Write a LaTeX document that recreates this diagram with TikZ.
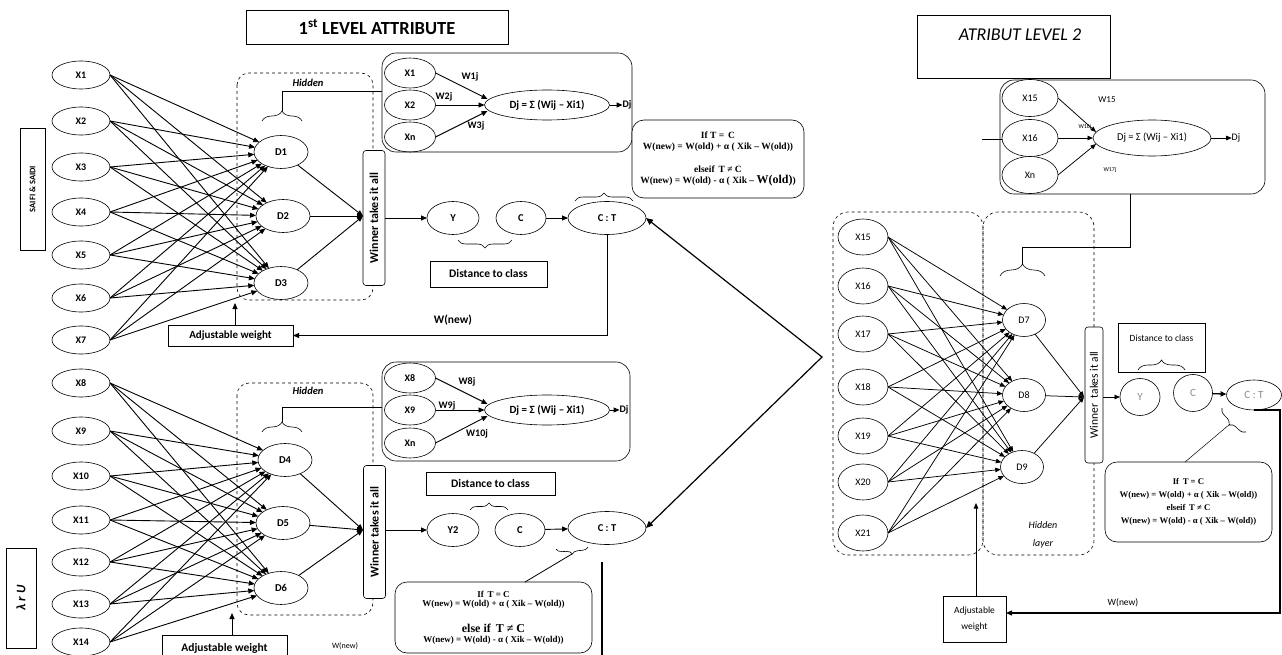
\documentclass[tikz,border=0pt]{standalone}
\usepackage{fontspec}
\setmainfont{Carlito}
\newfontfamily\formfont{Liberation Serif}
\usetikzlibrary{shapes.geometric,arrows.meta,decorations.pathreplacing,calc}
\begin{document}
\begin{tikzpicture}[x=1pt,y=-1pt,
  every node/.style={inner sep=0pt,outer sep=0pt},
  conn/.style={line width=0.9pt,-{Triangle[length=6pt,width=5pt]}},
  rconn/.style={line width=0.75pt,-{Triangle[length=5.5pt,width=4.5pt]}},
  plain/.style={line width=0.8pt},
  xin/.style={ellipse,draw,line width=0.6pt,fill=white,minimum width=58pt,minimum height=28pt,font=\fontsize{10}{11}\selectfont\bfseries},
  dn/.style={ellipse,draw,line width=0.6pt,fill=white,minimum width=54pt,minimum height=33pt,font=\fontsize{10.5}{11}\selectfont\bfseries},
  sx/.style={ellipse,draw,line width=0.6pt,minimum width=51pt,minimum height=30pt,font=\fontsize{10}{11}\selectfont\bfseries},
  djn/.style={ellipse,draw,line width=0.6pt,minimum width=125pt,minimum height=30pt,font=\fontsize{11}{12}\selectfont\bfseries},
  wl/.style={font=\fontsize{10}{11}\selectfont\bfseries},
  wta/.style={draw,rounded corners=3pt,line width=0.6pt,fill=white,minimum width=22pt,minimum height=135pt,font=\fontsize{12}{13}\selectfont\bfseries},
  lbox/.style={draw,line width=0.6pt,fill=white},
  hidbox/.style={draw,dashed,line width=0.6pt,rounded corners=12pt},
  panel/.style={draw,line width=0.6pt,rounded corners=14pt},
  formbox/.style={draw,line width=0.6pt,rounded corners=12pt,fill=white,align=center},
  brc/.style={decorate,decoration={brace,amplitude=#1},line width=0.6pt},
  xr/.style={ellipse,draw,line width=0.6pt,fill=white,minimum width=50pt,minimum height=36pt,font=\fontsize{10}{11}\selectfont},
  dr/.style={ellipse,draw,line width=0.6pt,fill=white,minimum width=43pt,minimum height=33pt,font=\fontsize{10}{11}\selectfont},
  grey/.style={ellipse,draw,line width=0.6pt,fill=white,minimum height=37pt,text=black!45,font=\fontsize{11}{12}\selectfont}
]
\useasboundingbox (0,0) rectangle (1282,655);
\fill[white] (0,0) rectangle (1282,655);

% ================= first level: titles and side labels =================
\node[lbox,minimum width=262pt,minimum height=34pt,font=\fontsize{18.5}{20}\selectfont\bfseries] (title1) at (377,27) {1\textsuperscript{st} LEVEL ATTRIBUTE};
\node[lbox,minimum width=25pt,minimum height=122pt,font=\fontsize{8.5}{9}\selectfont\bfseries] (saifi) at (32.5,189) {\rotatebox{90}{SAIFI \& SAIDI}};
\node[lbox,minimum width=30pt,minimum height=100pt,font=\fontsize{13}{14}\selectfont\bfseries\itshape] (lru) at (21,598) {\rotatebox{90}{λ r U}};

% ================= upper network =================
\draw[hidbox] (237,73) rectangle (373,300);
\node[font=\fontsize{10.5}{11}\selectfont\bfseries\itshape] (hid1) at (308,83) {Hidden};

\node[panel,minimum width=250pt,minimum height=99pt] (pan1) at (507,102.5) {};
\node[sx] (a1) at (410,73) {X1};
\node[sx] (a2) at (410,105) {X2};
\node[sx] (a3) at (410,137) {Xn};
\node[djn] (dj1) at (547,105) {Dj = Σ (Wij – Xi1)};
\node[wl] (djo1) at (627,105) {Dj};
\draw[conn] (a1.east) -- ($(dj1.west)+(3,-6)$);
\draw[conn] (a2.east) -- (dj1.west);
\draw[conn] (a3.east) -- ($(dj1.west)+(3,6)$);
\draw[conn] (dj1.east) -- (djo1.west);
\node[wl] (w1j) at (470,77) {W1j};
\node[wl] (w2j) at (444,97) {W2j};
\node[wl] (w3j) at (476,126) {W3j};

\coordinate (h1) at (282,91);
\coordinate (b1tip) at (282,111);
\draw[plain] (pan1.west |- h1) -- (h1) -- (b1tip);
\draw[brc=10pt] (262,121) -- (302,121);

\foreach \n/\y in {1/75,2/121,3/167,4/212,5/255,6/298,7/340,8/383,9/431,10/476,11/520,12/562,13/604,14/642}
  \node[xin] (X\n) at (81,\y) {X\n};

\node[dn] (D1) at (281,152) {D1};
\node[dn] (D2) at (283,216) {D2};
\node[dn] (D3) at (281,283) {D3};
\foreach \i in {1,...,7}
  \foreach \d in {1,2,3}
    \draw[conn] (X\i.east) -- (D\d);

\node[wta] (wta1) at (374,218) {\rotatebox{90}{Winner takes it all}};
\coordinate (w1in) at (363,216);
\foreach \d in {1,2,3} \draw[conn] (D\d) -- (w1in);

\node[dn,minimum width=52pt] (Y1) at (453,218) {Y};
\node[dn,minimum width=50pt] (C1) at (521,218) {C};
\node[dn,minimum width=78pt] (CT1) at (607,218) {C : T};
\draw[conn] (wta1.east |- Y1) -- (Y1.west);
\draw[conn] (C1) -- (CT1);
\draw[brc=8pt] (512,240) -- (458,240);
\node[lbox,minimum width=117pt,minimum height=26pt,font=\fontsize{11.5}{12}\selectfont\bfseries] (dtc1) at (488.5,274) {Distance to class};
\draw[brc=8pt] (575,201) -- (633,201);

\node[formbox,minimum width=172pt,minimum height=78pt,font=\formfont\bfseries\fontsize{9.5}{11.5}\selectfont] (f1) at (718,159)
  {If T = \,C\\W(new) = W(old) + α ( Xik – W(old))\\[11pt]elseif \,T ≠ C\\W(new) = W(old) - α ( Xik – {\fontsize{12}{12}\selectfont W(old)})};

\node[font=\fontsize{11.5}{12}\selectfont\bfseries] (wn1) at (453,320) {W(new)};
\node[lbox,minimum width=125pt,minimum height=21pt,font=\fontsize{11}{12}\selectfont\bfseries] (adj1) at (230.5,335.5) {Adjustable weight};
\draw[conn] (CT1.south) |- (adj1.east);
\coordinate (up1) at (235,303);
\draw[conn] (adj1.north -| up1) -- (up1);

% ================= lower network =================
\draw[hidbox] (237,383) rectangle (373,615);
\node[font=\fontsize{10.5}{11}\selectfont\bfseries\itshape] (hid2) at (308,391) {Hidden};

\node[panel,minimum width=248pt,minimum height=99pt] (pan2) at (506,411.5) {};
\node[sx] (a8) at (410,378) {X8};
\node[sx] (a9) at (410,410) {X9};
\node[sx] (a10) at (410,443) {Xn};
\node[djn] (dj2) at (547,410) {Dj = Σ (Wij – Xi1)};
\node[wl] (djo2) at (624,410) {Dj};
\draw[conn] (a8.east) -- ($(dj2.west)+(3,-6)$);
\draw[conn] (a9.east) -- (dj2.west);
\draw[conn] (a10.east) -- ($(dj2.west)+(3,6)$);
\draw[conn] (dj2.east) -- (djo2.west);
\node[wl] (w8j) at (467,382) {W8j};
\node[wl] (w9j) at (447,406) {W9j};
\node[wl] (w10j) at (477,434) {W10j};

\coordinate (h2) at (282,407);
\coordinate (b2tip) at (282,422);
\draw[plain] (pan2.west |- h2) -- (h2) -- (b2tip);
\draw[brc=10pt] (262,432) -- (302,432);

\node[dn] (D4) at (285,460) {D4};
\node[dn] (D5) at (283,523) {D5};
\node[dn] (D6) at (281,588) {D6};
\foreach \i in {8,...,14}
  \foreach \d in {4,5,6}
    \draw[conn] (X\i.east) -- (D\d);

\node[wta,minimum height=133pt] (wta2) at (374.5,532) {\rotatebox{90}{Winner takes it all}};
\coordinate (w2in) at (363,530);
\foreach \d in {4,5,6} \draw[conn] (D\d) -- (w2in);

\node[dn,minimum width=52pt] (Y2) at (453,530) {Y2};
\node[dn,minimum width=50pt] (C2) at (520,530) {C};
\node[dn,minimum width=78pt] (CT2) at (607,528) {C : T};
\draw[conn] (wta2.east |- Y2) -- (Y2.west);
\draw[conn] (C2) -- (CT2);
\node[lbox,minimum width=129pt,minimum height=23pt,font=\fontsize{11.5}{12}\selectfont\bfseries] (dtc2) at (490.5,483.5) {Distance to class};
\draw[brc=7pt] (470,510) -- (508,510);
\draw[brc=6pt] (588,547) -- (556,549);
\coordinate (b5tip) at (572,554);

\node[formbox,minimum width=197pt,minimum height=71pt,font=\formfont\bfseries\fontsize{9}{9.5}\selectfont] (f2) at (493.5,617.5)
  {If \,T = C\\W(new) = W(old) + α ( Xik – W(old))\\[15pt]{\fontsize{12}{12}\selectfont else if \,T ≠ C}\\W(new) = W(old) - α ( Xik – W(old))};
\draw[plain] (f2.north -| 525,0) -- (b5tip);
\coordinate (v2a) at (602,562);
\coordinate (v2b) at (602,655);
\draw[line width=1.2pt] (v2a) -- (v2b);

\node[lbox,minimum width=125pt,minimum height=26pt,font=\fontsize{11.5}{12}\selectfont\bfseries] (adj2) at (224.5,648) {Adjustable weight};
\coordinate (up2) at (232,613);
\draw[conn] (adj2.north -| up2) -- (up2);
\node[font=\fontsize{8}{9}\selectfont] (wn2) at (345,646) {W(new)};

% link between both C : T outputs
\coordinate (vtx) at (822,357);
\draw[line width=1.2pt,{Triangle[length=7pt,width=6pt]}-{Triangle[length=7pt,width=6pt]}] (CT1.east) -- (vtx) -- (CT2.east);

% ================= second level =================
\node[lbox,minimum width=193pt,minimum height=63pt] (title2) at (1013.5,46.5) {};
\node[font=\fontsize{18}{20}\selectfont\itshape] (title2t) at (1020,35) {ATRIBUT LEVEL 2};

\node[panel,minimum width=265pt,minimum height=114pt] (rpan) at (1132.5,137) {};
\node[xr,minimum width=56pt,minimum height=37pt] (r15) at (1030,98) {X15};
\node[xr,minimum width=56pt,minimum height=37pt] (r16) at (1030,138) {X16};
\node[xr,minimum width=56pt,minimum height=37pt] (rn) at (1030,175) {Xn};
\node[ellipse,draw,line width=0.6pt,minimum width=118pt,minimum height=36pt,font=\fontsize{10.5}{11}\selectfont] (djr) at (1152,138) {Dj = Σ (Wij – Xi1)};
\node[font=\fontsize{10}{11}\selectfont] (djor) at (1236,138) {Dj};
\draw[rconn] (r15.east) -- ($(djr.west)+(3,-6)$);
\draw[rconn] (r16.east) -- (djr.west);
\draw[rconn] (rn.east) -- ($(djr.west)+(3,6)$);
\draw[rconn] (djr.east) -- (djor.west);
\node[font=\fontsize{9}{10}\selectfont] (w15) at (1107,100) {W15};
\node[font=\fontsize{6}{7}\selectfont] (w16) at (1085,127) {W16j};
\node[font=\fontsize{6}{7}\selectfont] (w17) at (1110,170) {W17j};
\coordinate (in16) at (982,140);
\draw[line width=1pt] (in16) -- (in16 -| r16.west);

\coordinate (h3) at (1130,247);
\coordinate (b3tip) at (1022,264);
\draw[plain] (rpan.south -| h3) -- (h3) -| (b3tip);
\draw[brc=12pt] (1000,276) -- (1045,276);

\draw[hidbox,rounded corners=15pt] (833,212) rectangle (983,555);
\draw[hidbox,rounded corners=15pt] (983,212) rectangle (1094,555);
\node[font=\fontsize{10}{18}\selectfont\itshape,align=center] (hidr) at (1043,535) {Hidden\\layer};

\foreach \n/\y in {15/237,16/286,17/334,18/387,19/436,20/482,21/533}
  \node[xr] (X\n) at (863,\y) {X\n};
\node[dr] (D7) at (1024,320) {D7};
\node[dr] (D8) at (1024,395) {D8};
\node[dr] (D9) at (1022,467) {D9};
\foreach \i in {15,...,21}
  \foreach \d in {7,8,9}
    \draw[rconn] (X\i.east) -- (D\d);

\node[wta,minimum width=18pt,minimum height=136pt,font=\fontsize{11.5}{12}\selectfont] (wta3) at (1094,395) {\rotatebox{90}{Winner \;takes it all}};
\coordinate (w3in) at (1084,397);
\foreach \d in {7,8,9} \draw[rconn] (D\d) -- (w3in);

\node[grey,minimum width=40pt] (Y3) at (1140,397) {Y};
\node[grey,minimum width=39pt] (C3) at (1193,393) {C};
\node[grey,minimum width=55pt,minimum height=30pt] (CT3) at (1254,395) {C : T};
\draw[rconn] (wta3.east |- Y3) -- (Y3.west);
\draw[conn,line width=1.3pt] (C3) -- (CT3);
\node[lbox,minimum width=87pt,minimum height=49pt] (dtc3) at (1161.5,347.5) {};
\node[font=\fontsize{9.5}{10}\selectfont] (dtc3t) at (1161.5,338) {Distance to class};
\draw[brc=10pt] (1138,370) -- (1185,370);

\draw[brc=7pt] (1246,432) -- (1222,408);
\coordinate (b6tip) at (1230,424);
\node[formbox,minimum width=167pt,minimum height=80pt,font=\formfont\bfseries\fontsize{8.7}{13}\selectfont] (f3) at (1188.5,502)
  {If \,T = C\\W(new) = W(old) + α ( Xik – W(old))\\elseif \,T ≠ C\\W(new) = W(old) - α ( Xik – W(old))};
\draw[line width=0.5pt] (f3.north -| 1185,0) -- (b6tip);

\coordinate (fb3) at (1280,613);
\node[lbox,minimum width=63pt,minimum height=46pt,align=center,font=\fontsize{9.5}{16}\selectfont] (adj3) at (974.5,619) {Adjustable\\weight};
\draw[conn,line width=1.3pt] (CT3.south) -| (fb3) -- (adj3.east |- fb3);
\node[font=\fontsize{9.5}{10}\selectfont] (wn3) at (1123,603) {W(new)};
\coordinate (up3) at (976,503);
\draw[rconn] (adj3.north -| up3) -- (up3);

\end{tikzpicture}
\end{document}
